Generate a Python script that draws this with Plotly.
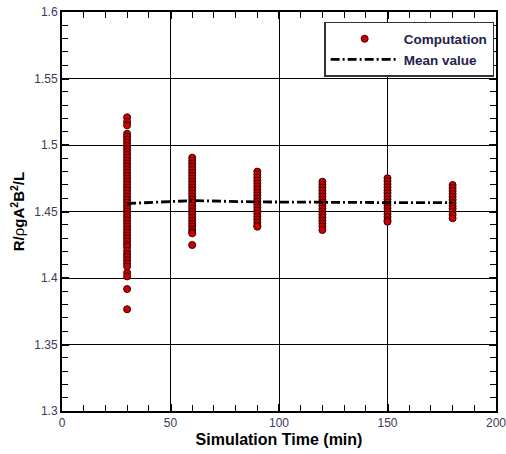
import plotly.graph_objects as go

# ---- data ----
times = [30, 60, 90, 120, 150, 180]

comp_30 = [1.5208, 1.5175, 1.5148,
           1.5085, 1.5062, 1.5040, 1.5018, 1.4995, 1.4972, 1.4950, 1.4928, 1.4905,
           1.4882, 1.4860, 1.4838, 1.4815, 1.4792, 1.4770, 1.4748, 1.4725, 1.4702,
           1.4680, 1.4658, 1.4635, 1.4612, 1.4590, 1.4568, 1.4545, 1.4522, 1.4500,
           1.4478, 1.4455, 1.4432, 1.4410, 1.4388, 1.4365, 1.4342, 1.4320, 1.4298,
           1.4275, 1.4252, 1.4235, 1.4205, 1.4180, 1.4160, 1.4135, 1.4110, 1.4088,
           1.4040, 1.4012, 1.3917, 1.3765]
comp_60 = [1.4905, 1.4882, 1.4860, 1.4838, 1.4815, 1.4792, 1.4770, 1.4748, 1.4725,
           1.4702, 1.4680, 1.4658, 1.4635, 1.4612, 1.4590, 1.4568, 1.4545, 1.4522,
           1.4500, 1.4478, 1.4455, 1.4432, 1.4410, 1.4388, 1.4365, 1.4345, 1.4336,
           1.4248]
comp_90 = [1.4800, 1.4778, 1.4755, 1.4732, 1.4710, 1.4688, 1.4665, 1.4642, 1.4620,
           1.4598, 1.4575, 1.4552, 1.4530, 1.4508, 1.4485, 1.4462, 1.4440, 1.4418,
           1.4395, 1.4386]
comp_120 = [1.4724, 1.4702, 1.4680, 1.4658, 1.4635, 1.4612, 1.4590, 1.4568, 1.4545,
            1.4522, 1.4500, 1.4478, 1.4455, 1.4432, 1.4410, 1.4388, 1.4361]
comp_150 = [1.4750, 1.4728, 1.4705, 1.4682, 1.4660, 1.4638, 1.4615, 1.4592, 1.4570,
            1.4548, 1.4525, 1.4502, 1.4480, 1.4458, 1.4435, 1.4423]
comp_180 = [1.4699, 1.4678, 1.4655, 1.4632, 1.4610, 1.4588, 1.4565, 1.4542, 1.4520,
            1.4498, 1.4475, 1.4449]

mean_values = [1.4560, 1.4582, 1.4572, 1.4568, 1.4567, 1.4567]

x_range = [0, 200]
y_range = [1.3, 1.6]

clusters = [comp_30, comp_60, comp_90, comp_120, comp_150, comp_180]
comp_x, comp_y = [], []
for t, vals in zip(times, clusters):
    comp_x += [t] * len(vals)
    comp_y += vals

FONT = "Liberation Sans, Arial, sans-serif"
TICKCOL = "#3a3a58"
LEGCOL = "#22224a"

fig = go.Figure()
fig.add_trace(go.Scatter(
    x=comp_x, y=comp_y, mode="markers", name="Computation",
    marker=dict(size=7, color="#cc0000", line=dict(color="#3a0000", width=1)),
))
fig.add_trace(go.Scatter(
    x=times, y=mean_values, mode="lines", name="Mean value",
    line=dict(color="black", width=2.8, dash="9px,3px,2px,3px"),
))
# empty trace anchoring the minor-tick overlay axes
fig.add_trace(go.Scatter(x=[], y=[], xaxis="x2", yaxis="y2", showlegend=False, hoverinfo="skip"))

axis_common = dict(
    showline=True, linecolor="black", linewidth=2, mirror="allticks",
    showgrid=True, gridcolor="black", gridwidth=1,
    ticks="inside", ticklen=7, tickcolor="black", tickwidth=1.5,
    zeroline=False, automargin=False, ticklabeloverflow="allow",
    tickfont=dict(family=FONT, size=12, color=TICKCOL),
)

fig.update_layout(
    xaxis=dict(
        range=x_range, dtick=50, tick0=0,
        title=dict(text="<b>Simulation Time (min)</b>", font=dict(family=FONT, size=16, color="black"), standoff=4),
        **axis_common,
    ),
    yaxis=dict(
        range=y_range, dtick=0.05, tick0=1.3,
        title=dict(text="<b>R/</b>ρ<b>gA<sup>2</sup>B<sup>2</sup>/L</b>",
                   font=dict(family=FONT, size=15, color="black"), standoff=6),
        **axis_common,
    ),
    xaxis2=dict(
        overlaying="x", anchor="y2", range=x_range, dtick=10, tick0=0,
        ticks="inside", ticklen=6, tickcolor="black", tickwidth=1,
        showticklabels=False, showgrid=False, zeroline=False, showline=False,
        mirror="allticks", automargin=False,
    ),
    yaxis2=dict(
        overlaying="y", anchor="x2", range=y_range, dtick=0.01, tick0=1.3,
        ticks="inside", ticklen=6, tickcolor="black", tickwidth=1,
        showticklabels=False, showgrid=False, zeroline=False, showline=False,
        mirror="allticks", automargin=False,
    ),
)

fig.update_layout(
    width=506, height=454,
    margin=dict(l=62, r=10, t=12, b=43),
    paper_bgcolor="white", plot_bgcolor="white",
    showlegend=True,
    legend=dict(
        x=0.604, y=0.975, xanchor="left", yanchor="top",
        bgcolor="white", bordercolor="#333333", borderwidth=1.5,
        font=dict(family=FONT, size=13.5, color=LEGCOL, weight="bold"),
        itemwidth=68, tracegroupgap=0,
    ),
)

fig.write_html(
    "out.html",
    config={"displayModeBar": False},
    post_script="document.body.style.margin='0';document.body.style.overflow='hidden';",
)
